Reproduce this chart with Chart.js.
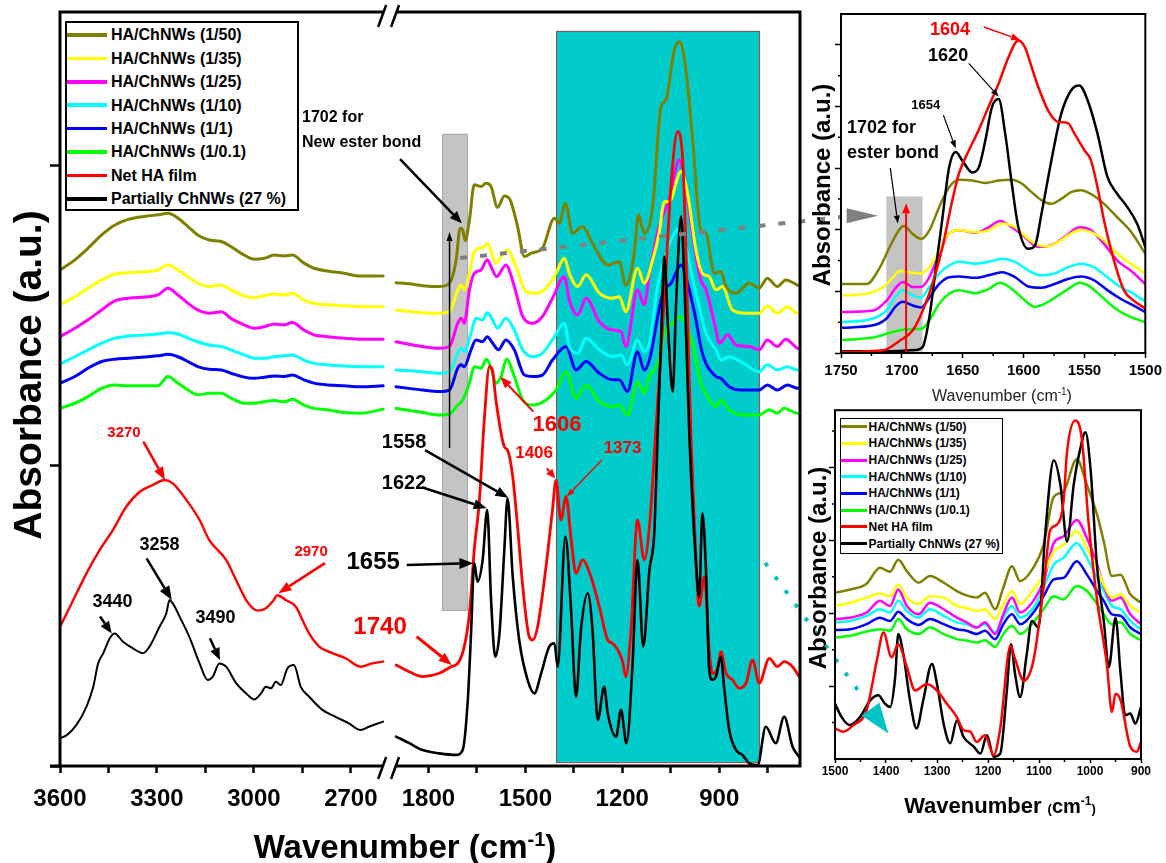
<!DOCTYPE html>
<html>
<head>
<meta charset="utf-8">
<title>FTIR HA/ChNWs</title>
<script src="https://cdn.jsdelivr.net/npm/chart.js@4.4.0/dist/chart.umd.min.js"></script>
<style>
  body { margin: 0; background: #fff; }
  #wrap { position: relative; width: 1166px; height: 863px; overflow: hidden; background: #fff;
          font-family: "Liberation Sans", Arial, Helvetica, sans-serif; color: #000; }
  canvas { position: absolute; }
  .t { position: absolute; white-space: nowrap; text-align: center; font-weight: bold; }
  .rot { transform: rotate(-90deg); }
  .leg { position: absolute; background: #fff; border: 2px solid #000; }
  .row { position: absolute; left: 0; white-space: nowrap; font-weight: bold; }
  .row i { position: absolute; left: 0; display: block; }
  .row span { position: absolute; }
</style>
</head>
<body>
<div id="wrap">
  <canvas id="main" width="1166" height="863" style="left:0;top:0"></canvas>
  <canvas id="insetTop" width="366" height="400" style="left:800px;top:0"></canvas>
  <canvas id="insetBot" width="366" height="463" style="left:800px;top:400px"></canvas>

  <div class="t rot" style="left:-222px;top:353px;width:500px;height:44px;line-height:44px;font-size:39px;">Absorbance (a.u.)</div>
  <div class="t" style="left:0;top:818px;width:810px;line-height:42px;font-size:33px;">Wavenumber (cm<sup style="font-size:20px">-1</sup>)</div>

  <div class="t rot" style="left:672px;top:171px;width:300px;height:28px;line-height:28px;font-size:24px;">Absorbance (a.u.)</div>
  <div class="t" style="left:902px;top:382px;width:200px;line-height:20px;font-size:16px;font-weight:normal;color:#222;">Wavenumber (cm<sup style="font-size:10px">-1</sup>)</div>

  <div class="t rot" style="left:668px;top:554px;width:300px;height:28px;line-height:28px;font-size:24px;">Absorbance (a.u.)</div>
  <div class="t" style="left:880px;top:786px;width:240px;line-height:30px;font-size:22px;">Wavenumber <span style="font-size:13px">(</span><span style="font-size:20px">cm</span><sup style="font-size:12px">-1</sup><span style="font-size:13px">)</span></div>

  <div id="legMain" class="leg" style="left:65px;top:21px;width:230px;height:186px;"></div>
  <div id="legBot" class="leg" style="left:840px;top:418px;width:161px;height:134px;border-width:1.5px;"></div>
</div>

<script>
const FONT = '"Liberation Sans", Arial, Helvetica, sans-serif';
Chart.defaults.font.family = FONT;
Chart.defaults.color = '#000';

const names = ['HA/ChNWs (1/50)', 'HA/ChNWs (1/35)', 'HA/ChNWs (1/25)', 'HA/ChNWs (1/10)',
               'HA/ChNWs (1/1)', 'HA/ChNWs (1/0.1)', 'Net HA film', 'Partially ChNWs (27 %)'];
const colors = ['#808000', '#FFFF00', '#FF00FF', '#00FFFF', '#0000FF', '#00FF00', '#FF0000', '#000000'];

// ---------- main plot, 3600-2600 segment ----------
const leftWn = [3600,3554,3513,3471,3430,3389,3328,3297,3266,3235,3204,3174,3138,3101,3071,3030,2999,2968,2937,2906,2881,2845,2814,2773,2721,2670,2600];
const oliveLeft = [1.653,1.687,1.726,1.77,1.803,1.822,1.833,1.837,1.842,1.826,1.798,1.77,1.753,1.748,1.731,1.703,1.689,1.692,1.703,1.7,1.703,1.676,1.659,1.65,1.642,1.633,1.633];
const yellowLeft = [1.537,1.564,1.592,1.62,1.64,1.644,1.648,1.653,1.67,1.653,1.631,1.609,1.598,1.603,1.587,1.567,1.561,1.567,1.573,1.57,1.576,1.553,1.542,1.537,1.534,1.531,1.531];
const magentaLeft = [1.431,1.459,1.487,1.52,1.55,1.559,1.564,1.57,1.592,1.57,1.542,1.52,1.509,1.514,1.492,1.47,1.459,1.464,1.473,1.47,1.478,1.453,1.437,1.431,1.426,1.422,1.422];
const cyanLeft = [1.34,1.364,1.387,1.409,1.426,1.433,1.437,1.44,1.444,1.44,1.426,1.414,1.403,1.398,1.387,1.37,1.359,1.359,1.364,1.367,1.37,1.353,1.342,1.337,1.333,1.331,1.331];
const blueLeft = [1.276,1.298,1.326,1.348,1.356,1.359,1.364,1.367,1.372,1.364,1.348,1.331,1.322,1.32,1.309,1.296,1.292,1.296,1.3,1.298,1.303,1.287,1.276,1.27,1.267,1.264,1.267];
const greenLeft = [1.192,1.209,1.231,1.259,1.27,1.267,1.267,1.267,1.298,1.276,1.253,1.237,1.242,1.242,1.226,1.209,1.209,1.214,1.218,1.214,1.222,1.203,1.192,1.187,1.178,1.176,1.189];
const redLeftWn = [3600,3559,3518,3477,3436,3395,3353,3312,3276,3251,3209,3168,3138,3086,3055,3024,2989,2963,2942,2927,2901,2870,2850,2829,2798,2757,2716,2670,2634,2600];
const redLeft = [0.464,0.553,0.642,0.72,0.787,0.864,0.914,0.937,0.953,0.942,0.887,0.82,0.753,0.687,0.62,0.553,0.518,0.526,0.548,0.569,0.553,0.531,0.487,0.442,0.398,0.376,0.359,0.331,0.342,0.348];
const blackLeftWn = [3600,3579,3549,3518,3497,3482,3466,3446,3431,3405,3374,3343,3323,3292,3271,3261,3251,3225,3200,3168,3143,3127,3107,3086,3055,3024,2999,2978,2963,2947,2932,2917,2896,2876,2855,2829,2788,2747,2706,2670,2644,2600];
const blackLeft = [0.092,0.103,0.137,0.198,0.264,0.342,0.376,0.426,0.442,0.414,0.392,0.376,0.398,0.464,0.509,0.553,0.542,0.487,0.431,0.342,0.287,0.298,0.342,0.331,0.276,0.242,0.222,0.242,0.264,0.259,0.281,0.27,0.326,0.337,0.264,0.231,0.187,0.164,0.142,0.12,0.131,0.148];

// ---------- main plot, 1900-650 segment ----------
const oliveRightWn = [1900,1859,1818,1766,1735,1714,1702,1694,1686,1673,1658,1637,1622,1606,1586,1565,1547,1524,1503,1482,1447,1410,1395,1376,1354,1323,1292,1245,1209,1189,1163,1150,1132,1106,1080,1065,1039,1022,1003,983,957,941,915,895,879,848,807,776,751,720,694,658,650];
const oliveRight = [1.611,1.607,1.601,1.598,1.609,1.687,1.792,1.787,1.751,1.82,1.937,1.931,1.942,1.931,1.862,1.9,1.887,1.798,1.698,1.709,1.726,1.826,1.809,1.876,1.776,1.798,1.742,1.67,1.681,1.603,1.709,1.837,1.776,1.864,2.198,2.22,2.387,2.414,2.32,2.098,1.787,1.776,1.642,1.648,1.598,1.576,1.609,1.593,1.626,1.598,1.62,1.603,1.6];
const yellowRightWn = [1900,1818,1766,1735,1709,1699,1689,1673,1658,1642,1627,1617,1591,1575,1555,1529,1498,1467,1436,1405,1379,1364,1338,1312,1271,1230,1209,1189,1153,1132,1106,1086,1070,1055,1018,998,972,952,931,910,890,859,817,776,751,720,689,658,650];
const yellowRight = [1.52,1.511,1.509,1.514,1.587,1.603,1.587,1.642,1.714,1.726,1.731,1.742,1.676,1.698,1.72,1.664,1.581,1.576,1.592,1.642,1.692,1.642,1.598,1.637,1.576,1.559,1.564,1.514,1.659,1.609,1.687,1.776,1.881,1.881,1.981,1.909,1.72,1.642,1.631,1.587,1.598,1.52,1.509,1.509,1.533,1.509,1.531,1.509,1.51];
const magentaRightWn = [1900,1818,1766,1735,1709,1699,1689,1673,1658,1637,1618,1606,1589,1560,1534,1508,1477,1447,1416,1379,1364,1338,1312,1271,1230,1204,1189,1153,1132,1116,1086,1055,1024,1003,983,957,941,910,900,874,848,807,776,751,720,694,658,650];
const magentaRight = [1.414,1.398,1.392,1.398,1.476,1.492,1.476,1.587,1.642,1.653,1.687,1.664,1.631,1.67,1.598,1.498,1.476,1.498,1.559,1.631,1.553,1.503,1.559,1.481,1.453,1.448,1.398,1.587,1.537,1.642,1.798,1.887,2.02,1.931,1.776,1.62,1.587,1.453,1.409,1.437,1.403,1.398,1.387,1.42,1.398,1.422,1.392,1.39];
const cyanRightWn = [1900,1818,1766,1735,1709,1699,1689,1668,1653,1632,1618,1601,1586,1560,1534,1508,1477,1447,1416,1379,1364,1338,1312,1271,1230,1204,1184,1153,1132,1116,1091,1070,1049,1024,1003,977,957,941,910,895,869,833,776,751,720,689,658,650];
const cyanRight = [1.32,1.314,1.309,1.314,1.376,1.392,1.381,1.442,1.492,1.487,1.511,1.487,1.459,1.492,1.453,1.387,1.364,1.376,1.42,1.476,1.398,1.376,1.426,1.387,1.364,1.37,1.337,1.42,1.381,1.409,1.598,1.687,1.753,1.792,1.731,1.598,1.509,1.442,1.387,1.353,1.364,1.348,1.314,1.337,1.32,1.331,1.32,1.32];
const blueRightWn = [1900,1818,1766,1735,1709,1699,1689,1668,1653,1632,1618,1601,1583,1560,1534,1503,1477,1447,1416,1374,1343,1312,1271,1230,1209,1184,1153,1132,1116,1075,1049,1018,998,972,957,941,910,895,869,833,776,751,720,689,658,650];
const blueRight = [1.264,1.253,1.248,1.253,1.326,1.337,1.331,1.387,1.42,1.414,1.431,1.409,1.387,1.42,1.387,1.303,1.298,1.303,1.353,1.398,1.32,1.348,1.309,1.287,1.287,1.248,1.381,1.32,1.353,1.576,1.609,1.67,1.609,1.487,1.398,1.342,1.298,1.292,1.264,1.253,1.253,1.27,1.253,1.27,1.259,1.26];
const greenRightWn = [1900,1818,1766,1735,1709,1694,1673,1658,1637,1620,1606,1591,1575,1558,1534,1508,1477,1436,1405,1374,1343,1312,1271,1230,1209,1184,1153,1132,1116,1086,1070,1044,1018,998,983,957,936,910,895,869,833,776,745,720,699,658,650];
const greenRight = [1.192,1.178,1.17,1.173,1.203,1.22,1.276,1.331,1.326,1.356,1.326,1.276,1.298,1.356,1.298,1.22,1.203,1.22,1.253,1.314,1.226,1.27,1.214,1.198,1.203,1.17,1.281,1.242,1.298,1.353,1.442,1.476,1.498,1.453,1.409,1.276,1.231,1.198,1.22,1.187,1.17,1.17,1.187,1.176,1.192,1.176,1.176];
const redRightWn = [1900,1859,1818,1766,1730,1709,1689,1673,1658,1642,1627,1611,1602,1591,1565,1555,1539,1524,1508,1488,1477,1462,1436,1416,1405,1390,1374,1359,1343,1323,1297,1271,1245,1230,1209,1199,1189,1173,1153,1132,1116,1096,1070,1048,1029,1013,1002,993,977,962,946,931,921,905,895,879,859,838,817,797,776,745,720,699,673,653];
const redRight = [0.337,0.314,0.298,0.309,0.331,0.342,0.398,0.509,0.72,0.887,1.153,1.331,1.32,1.22,1.064,1.053,0.964,0.798,0.598,0.431,0.42,0.464,0.664,0.853,0.953,0.82,0.898,0.764,0.642,0.687,0.631,0.531,0.42,0.409,0.376,0.348,0.298,0.453,0.82,0.687,0.798,1.12,1.553,1.953,2.114,2.02,1.687,1.287,0.82,0.533,0.631,0.387,0.309,0.326,0.381,0.309,0.287,0.259,0.276,0.353,0.276,0.359,0.331,0.348,0.331,0.298];
const blackRightWn = [1900,1859,1818,1766,1714,1694,1678,1668,1658,1648,1632,1618,1606,1593,1580,1565,1555,1539,1519,1493,1472,1451,1426,1410,1400,1376,1359,1343,1328,1307,1292,1276,1256,1245,1219,1204,1187,1168,1153,1135,1116,1101,1091,1079,1070,1058,1044,1033,1018,1008,993,972,962,952,941,931,921,910,895,884,869,848,828,807,781,756,725,699,673,653];
const blackRight = [0.098,0.076,0.053,0.042,0.037,0.053,0.22,0.442,0.676,0.614,0.687,0.853,0.553,0.364,0.442,0.72,0.892,0.631,0.42,0.287,0.242,0.309,0.398,0.409,0.331,0.764,0.531,0.231,0.453,0.576,0.453,0.153,0.264,0.176,0.098,0.187,0.076,0.342,0.687,0.398,0.653,0.776,1.087,1.453,1.698,1.453,1.248,1.553,1.831,1.62,1.12,0.676,0.564,0.842,0.653,0.32,0.287,0.298,0.364,0.253,0.12,0.053,0.037,0.009,0.003,0.131,0.076,0.164,0.064,0.031];

// ---------- top inset 1750-1500 ----------
const trOliveWn = [1749.2,1728.9,1718.0,1710.0,1701.8,1698.5,1691.0,1684.2,1677.4,1669.3,1661.2,1653.0,1642.2,1631.4,1620.5,1609.7,1601.6,1593.4,1585.3,1577.2,1569.1,1561.0,1552.8,1544.7,1533.9,1523.0,1512.2,1500];
const trOlive = [1.12,1.12,1.39,1.72,2.01,2.06,1.93,1.85,1.99,2.37,2.69,2.81,2.8,2.76,2.8,2.81,2.75,2.61,2.48,2.42,2.5,2.61,2.64,2.58,2.42,2.2,1.98,1.61];
const trYellowWn = [1749.2,1728.9,1715.3,1707.2,1701.8,1693.7,1685.5,1677.4,1669.3,1661.2,1653.0,1639.5,1628.7,1617.8,1607.0,1596.2,1588.0,1579.9,1571.8,1561.0,1552.8,1544.7,1533.9,1523.0,1512.2,1500];
const trYellow = [0.935,0.96,1.07,1.23,1.33,1.31,1.29,1.39,1.66,1.94,1.99,1.96,1.99,2.1,2.04,1.85,1.75,1.73,1.8,1.94,2.0,1.96,1.83,1.61,1.45,1.29];
const trMagentaWn = [1749.2,1723.5,1712.6,1704.5,1699.1,1691.0,1684.2,1677.4,1669.3,1661.2,1653.0,1639.5,1628.7,1619.2,1609.7,1598.9,1588.0,1577.2,1566.4,1554.2,1544.7,1533.9,1523.0,1512.2,1500];
const trMagenta = [0.665,0.69,0.85,1.07,1.15,1.07,1.07,1.23,1.61,1.94,1.99,1.95,2.04,2.14,2.04,1.88,1.72,1.75,1.88,2.04,1.99,1.77,1.5,1.34,1.12];
const trCyanWn = [1749.2,1723.5,1712.6,1704.5,1699.1,1691.0,1684.2,1677.4,1669.3,1661.2,1653.0,1639.5,1628.7,1617.8,1607.0,1596.2,1585.3,1574.5,1563.6,1552.8,1542.0,1531.2,1520.3,1509.5,1500];
const trCyan = [0.5,0.56,0.69,0.93,1.02,0.93,0.9,1.07,1.29,1.42,1.48,1.45,1.48,1.53,1.48,1.34,1.26,1.29,1.39,1.45,1.39,1.23,1.07,0.96,0.83];
const trBlue = [0.41,0.45,0.56,0.77,0.83,0.77,0.74,0.9,1.12,1.23,1.24,1.22,1.26,1.31,1.23,1.08,1.06,1.12,1.2,1.24,1.18,1.02,0.88,0.77,0.66];
const trGreenWn = [1749.2,1723.5,1712.6,1701.8,1691.0,1684.2,1677.4,1669.3,1661.2,1653.0,1639.5,1628.7,1619.2,1609.7,1598.9,1590.7,1582.6,1571.8,1561.0,1554.2,1547.4,1536.6,1525.7,1514.9,1500];
const trGreen = [0.21,0.25,0.31,0.37,0.39,0.39,0.53,0.8,0.96,1.02,0.97,1.04,1.14,1.04,0.85,0.75,0.8,0.93,1.07,1.14,1.1,0.93,0.74,0.61,0.5];
const trRedWn = [1749.2,1715.3,1701.8,1691,1682.8,1674.7,1666.6,1658.5,1653,1644.9,1636.8,1628.7,1620.5,1612.4,1604.3,1598.9,1593.4,1588,1580,1571.8,1563.6,1558.2,1550,1544.7,1539.3,1533.9,1525.7,1517.6,1509.5,1500];
const trRed = [0.016,0.043,0.2,0.37,0.69,1.13,1.72,2.48,2.92,3.29,3.62,4.0,4.37,4.8,5.07,4.96,4.64,4.32,3.94,3.75,3.73,3.56,3.29,3.13,2.69,2.15,1.5,1.02,0.85,0.72];
const trBlackWn = [1749.2,1715.3,1688.2,1682.8,1677.4,1672,1666.6,1661.2,1655.7,1650.3,1642.2,1636.8,1631.4,1626,1620.5,1615.1,1609.7,1604.3,1596.2,1590.7,1585.3,1577.2,1569.1,1561,1554.2,1547.4,1539.3,1531.2,1523,1514.9,1506.8,1500];
const trBlack = [0.03,0.03,0.05,0.1,0.58,1.39,2.2,3.01,3.26,3.12,2.93,3.01,3.45,3.99,4.12,3.56,2.75,2.04,1.69,1.74,2.26,3.12,3.88,4.26,4.34,4.1,3.56,2.86,2.58,2.37,2.1,1.72];

// ---------- bottom inset 1500-900 ----------
const brWn = [1500,1470,1438,1412,1392,1376,1359,1336,1314,1287,1261,1242,1222,1206,1186,1170,1153,1137,1111,1091,1071,1052,1026,1006,986,973,957,940,921,900];
const brOlive = [4.56,4.65,4.81,5.25,5.14,5.47,5.15,4.84,5.02,4.84,4.61,4.49,4.43,4.56,4.11,4.7,5.29,4.88,5.25,5.88,7.2,7.34,8.23,7.52,6.7,5.97,5.02,5.06,4.52,4.29];
const brYellow = [4.2,4.29,4.43,4.54,4.47,4.79,4.43,4.26,4.47,4.43,4.2,4.15,4.06,4.11,3.84,4.25,4.61,4.25,4.65,5.06,5.7,5.88,6.25,5.79,5.25,4.79,4.43,4.52,4.2,4.02];
const brMagenta = [3.84,3.88,4.02,4.34,4.2,4.65,4.2,3.97,4.29,4.11,3.88,3.75,3.61,3.75,3.43,3.97,4.43,4.02,4.34,4.88,5.93,6.11,6.56,6.06,5.34,4.75,4.34,4.43,3.97,3.7];
const brCyan = [3.75,3.79,3.93,4.11,4.02,4.34,4.06,3.88,4.11,3.93,3.75,3.7,3.61,3.7,3.48,3.88,4.2,3.88,4.15,4.7,5.34,5.52,5.93,5.52,4.97,4.61,4.2,4.11,3.79,3.56];
const brBlue = [3.54,3.56,3.7,3.88,3.79,4.04,3.84,3.68,3.84,3.7,3.56,3.52,3.43,3.52,3.29,3.7,3.97,3.7,4.02,4.47,4.93,4.97,5.43,5.06,4.61,4.34,3.97,3.93,3.61,3.43];
const brGreen = [3.34,3.38,3.5,3.56,3.52,3.84,3.56,3.43,3.61,3.43,3.29,3.25,3.2,3.26,3.08,3.43,3.66,3.43,3.75,4.11,4.47,4.38,4.75,4.61,4.25,3.97,3.7,3.75,3.43,3.26];
const brRedWn = [1500,1484,1464,1438,1418,1405,1389,1376,1359,1343,1320,1300,1281,1261,1248,1235,1222,1206,1189,1176,1156,1147,1130,1111,1091,1078,1065,1052,1045,1029,1016,1003,986,967,957,950,940,921,908,900];
const brRed = [0.84,0.75,0.93,1.34,2.7,3.47,2.79,3.15,2.52,1.88,2.06,1.88,1.52,1.15,0.79,0.75,0.47,0.65,0.11,0.84,3.11,2.75,2.15,2.7,4.7,6.29,6.43,7.06,8.43,9.29,8.79,6.52,4.34,2.61,1.29,1.79,1.61,0.34,0.2,0.47];
const brBlackWn = [1500,1487,1471,1451,1431,1415,1402,1392,1382,1376,1366,1353,1340,1327,1310,1300,1287,1274,1261,1248,1228,1215,1202,1189,1176,1163,1155,1147,1137,1124,1114,1101,1088,1071,1058,1045,1032,1019,1009,999,986,973,963,950,940,931,921,911,900];
const brBlack = [1.52,1.15,0.93,1.15,1.61,1.75,1.52,1.43,2.25,3.43,2.88,1.61,0.84,1.61,2.61,2.06,0.97,0.43,1.06,0.61,0.34,0.15,0.65,0.06,0.15,1.88,3.15,2.34,1.7,2.88,3.79,3.61,6.15,8.2,7.52,5.97,7.52,8.52,8.97,7.97,5.25,3.79,2.52,3.88,2.34,1.2,1.25,0.97,1.43];

// tick positions
const mainMajor = [3600, 3300, 3000, 2700, 1800, 1500, 1200, 900];
const mainMinor = [3450, 3150, 2850, 1650, 1350, 1050, 750];

// broken axis: 3600-2600 then 1900-650 on one linear position scale
function wnToPos(wn) { return wn >= 2600 ? 3600 - wn : 1040 + (1900 - wn); }
const posToLabel = {};
mainMajor.forEach(w => { posToLabel[wnToPos(w)] = String(w); });

function pts(wns, vals, map) { return wns.map((w, i) => ({ x: map(w), y: vals[i] })); }
function ds(data, color, width) {
  return { data, borderColor: color, borderWidth: width, pointRadius: 0, fill: false,
           cubicInterpolationMode: 'monotone', borderJoinStyle: 'round', borderCapStyle: 'round' };
}
const same = w => w;

// ---------- annotation helpers ----------
function arrow(ctx, a, b, color, lw, hl, hw) {
  const ang = Math.atan2(b[1] - a[1], b[0] - a[0]);
  const bx = b[0] - hl * Math.cos(ang), by = b[1] - hl * Math.sin(ang);
  ctx.strokeStyle = color; ctx.lineWidth = lw; ctx.setLineDash([]);
  ctx.beginPath(); ctx.moveTo(a[0], a[1]); ctx.lineTo(bx, by); ctx.stroke();
  ctx.fillStyle = color; ctx.beginPath(); ctx.moveTo(b[0], b[1]);
  ctx.lineTo(bx + hw / 2 * Math.sin(ang), by - hw / 2 * Math.cos(ang));
  ctx.lineTo(bx - hw / 2 * Math.sin(ang), by + hw / 2 * Math.cos(ang));
  ctx.closePath(); ctx.fill();
}

function paint(chart, items, xMap) {
  const ctx = chart.ctx, xs = chart.scales.x, ys = chart.scales.y;
  const P = p => [xs.getPixelForValue(xMap(p[0])), ys.getPixelForValue(p[1])];
  ctx.save();
  for (const n of items) {
    if (n.type === 'rect') {
      const a = P(n.from), b = P(n.to);
      const x = Math.min(a[0], b[0]), y = Math.min(a[1], b[1]);
      const w = Math.abs(b[0] - a[0]), h = Math.abs(b[1] - a[1]);
      ctx.fillStyle = n.fill; ctx.fillRect(x, y, w, h);
      if (n.stroke) { ctx.strokeStyle = n.stroke; ctx.lineWidth = 1; ctx.strokeRect(x + 0.5, y + 0.5, w, h); }
    } else if (n.type === 'text') {
      const a = P(n.at);
      ctx.font = 'bold ' + n.size + 'px ' + FONT; ctx.fillStyle = n.color;
      ctx.textAlign = n.align || 'center'; ctx.textBaseline = 'middle';
      ctx.fillText(n.text, a[0], a[1]);
    } else if (n.type === 'arrow') {
      arrow(ctx, P(n.from), P(n.to), n.color, n.lw, n.hl, n.hw);
    } else if (n.type === 'dash') {
      const a = P(n.from), b = P(n.to);
      ctx.strokeStyle = n.color; ctx.lineWidth = n.lw; ctx.setLineDash(n.dash); ctx.lineCap = 'butt';
      ctx.beginPath(); ctx.moveTo(a[0], a[1]); ctx.lineTo(b[0], b[1]); ctx.stroke(); ctx.setLineDash([]);
    } else if (n.type === 'poly') {
      ctx.fillStyle = n.fill; ctx.beginPath();
      n.pts.forEach((p, i) => { const q = P(p); i ? ctx.lineTo(q[0], q[1]) : ctx.moveTo(q[0], q[1]); });
      ctx.closePath(); ctx.fill();
    }
  }
  ctx.restore();
}

function notes(items, xMap, frame) {
  return {
    id: 'notes',
    beforeDatasetsDraw(chart) { paint(chart, items.filter(n => n.under), xMap); },
    afterDatasetsDraw(chart) { paint(chart, items.filter(n => !n.under), xMap); },
    afterDraw(chart) { frame(chart); }
  };
}

function mainFrame(chart) {
  const ctx = chart.ctx, a = chart.chartArea, xs = chart.scales.x;
  const gL = xs.getPixelForValue(1000), gR = xs.getPixelForValue(1040);
  ctx.save();
  ctx.strokeStyle = '#000'; ctx.lineWidth = 3; ctx.lineCap = 'butt';
  ctx.beginPath();
  ctx.moveTo(a.left, a.top - 1.5); ctx.lineTo(a.left, a.bottom);
  ctx.moveTo(a.right, a.top - 1.5); ctx.lineTo(a.right, a.bottom + 1.5);
  ctx.moveTo(a.left, a.top); ctx.lineTo(gL, a.top);
  ctx.moveTo(gR, a.top); ctx.lineTo(a.right, a.top);
  ctx.moveTo(a.left - 10, a.bottom); ctx.lineTo(gL, a.bottom);
  ctx.moveTo(gR, a.bottom); ctx.lineTo(a.right, a.bottom);
  ctx.stroke();
  ctx.lineWidth = 2.5; ctx.beginPath();
  for (const y of [a.top + 4, a.bottom + 2]) {
    for (const x of [gL - 1, gR - 1]) { ctx.moveTo(x - 4, y + 11); ctx.lineTo(x + 4, y - 11); }
  }
  ctx.stroke();
  ctx.restore();
}

function insetFrame(minorX, minorY) {
  return chart => {
    const ctx = chart.ctx, a = chart.chartArea, xs = chart.scales.x, ys = chart.scales.y;
    ctx.save();
    ctx.strokeStyle = '#000'; ctx.lineWidth = 2;
    ctx.strokeRect(a.left, a.top, a.right - a.left, a.bottom - a.top);
    ctx.lineWidth = 1.5; ctx.beginPath();
    minorX.forEach(v => { const x = xs.getPixelForValue(v); ctx.moveTo(x, a.bottom); ctx.lineTo(x, a.bottom + 3); });
    minorY.forEach(v => { const y = ys.getPixelForValue(v); ctx.moveTo(a.left, y); ctx.lineTo(a.left - 3, y); });
    ctx.stroke();
    ctx.restore();
  };
}

// ---------- annotations (wavenumber, absorbance) ----------
const mainNotes = [
  { type: 'rect', under: true, from: [1404.9, 0.013], to: [776.6, 2.45], fill: '#00CCCC', stroke: '#8a4a4a' },
  { type: 'rect', under: true, from: [1757.7, 0.52], to: [1680.3, 2.107], fill: '#C4C4C4', stroke: '#a8a8a8' },
  { type: 'dash', from: [1701.6, 1.693], to: [520, 1.83], color: '#808080', lw: 4, dash: [7, 13] },
  { type: 'dash', from: [757.9, 0.677], to: [463.9, 0.243], color: '#00C4C4', lw: 4, dash: [4, 13] },
  { type: 'text', at: [2851, 2.16], text: '1702 for', color: '#000', size: 16, align: 'left' },
  { type: 'text', at: [2851, 2.077], text: 'New ester bond', color: '#000', size: 16, align: 'left' },
  { type: 'arrow', from: [1887.7, 2.023], to: [1696.8, 1.809], color: '#000', lw: 2.5, hl: 12, hw: 10 },
  { type: 'arrow', from: [1734.5, 1.06], to: [1734.5, 1.78], color: '#000', lw: 1.5, hl: 9, hw: 6 },
  { type: 'text', at: [1401.8, 1.137], text: '1606', color: '#FF0000', size: 22 },
  { type: 'arrow', from: [1475.1, 1.181], to: [1578.1, 1.298], color: '#FF0000', lw: 2, hl: 12, hw: 9 },
  { type: 'text', at: [1875.3, 1.077], text: '1558', color: '#000', size: 20 },
  { type: 'arrow', from: [1810.4, 1.053], to: [1552.6, 0.894], color: '#000', lw: 2.5, hl: 13, hw: 10 },
  { type: 'text', at: [1875.3, 0.94], text: '1622', color: '#000', size: 20 },
  { type: 'arrow', from: [1820.6, 0.929], to: [1619.4, 0.859], color: '#000', lw: 2.5, hl: 13, hw: 10 },
  { type: 'text', at: [2631, 0.677], text: '1655', color: '#000', size: 24 },
  { type: 'arrow', from: [1866.9, 0.67], to: [1660.8, 0.676], color: '#000', lw: 2.5, hl: 14, hw: 11 },
  { type: 'text', at: [2609.6, 0.463], text: '1740', color: '#FF0000', size: 24 },
  { type: 'arrow', from: [1836.1, 0.431], to: [1727.7, 0.337], color: '#FF0000', lw: 3, hl: 13, hw: 10 },
  { type: 'text', at: [1472.9, 1.043], text: '1406', color: '#FF0000', size: 17 },
  { type: 'arrow', from: [1433.6, 0.992], to: [1407.8, 0.959], color: '#FF0000', lw: 2, hl: 9, hw: 8 },
  { type: 'text', at: [1199.1, 1.06], text: '1373', color: '#FF0000', size: 17 },
  { type: 'arrow', from: [1263.4, 1.02], to: [1371.7, 0.898], color: '#FF0000', lw: 1.3, hl: 8, hw: 6 },
  { type: 'text', at: [3402, 1.11], text: '3270', color: '#FF0000', size: 15 },
  { type: 'arrow', from: [3342, 1.081], to: [3275, 0.953], color: '#FF0000', lw: 2.5, hl: 13, hw: 10 },
  { type: 'text', at: [3292, 0.737], text: '3258', color: '#000', size: 18 },
  { type: 'arrow', from: [3332, 0.692], to: [3254, 0.553], color: '#000', lw: 2.5, hl: 14, hw: 11 },
  { type: 'text', at: [3437.5, 0.547], text: '3440', color: '#000', size: 18 },
  { type: 'arrow', from: [3476, 0.498], to: [3440, 0.442], color: '#000', lw: 2.5, hl: 12, hw: 10 },
  { type: 'text', at: [3119, 0.493], text: '3490', color: '#000', size: 18 },
  { type: 'arrow', from: [3136, 0.426], to: [3105, 0.353], color: '#000', lw: 2.5, hl: 12, hw: 10 },
  { type: 'text', at: [2823, 0.713], text: '2970', color: '#FF0000', size: 15 },
  { type: 'arrow', from: [2780, 0.676], to: [2924, 0.576], color: '#FF0000', lw: 2.5, hl: 13, hw: 10 }
];

const topNotes = [
  { type: 'rect', under: true, from: [1712.8, 0.02], to: [1683, 2.54], fill: '#C4C4C4' },
  { type: 'arrow', from: [1696.5, 0.02], to: [1696.5, 2.43], color: '#FF0000', lw: 2, hl: 10, hw: 8 },
  { type: 'poly', pts: [[1745.4, 2.349], [1745.4, 2.106], [1719.6, 2.227]], fill: '#808080' },
  { type: 'text', at: [1745.1, 3.65], text: '1702 for', color: '#000', size: 18, align: 'left' },
  { type: 'text', at: [1745.1, 3.25], text: 'ester bond', color: '#000', size: 18, align: 'left' },
  { type: 'arrow', from: [1709.5, 3.0], to: [1703.3, 2.1], color: '#000', lw: 1.2, hl: 8, hw: 6 },
  { type: 'text', at: [1680.4, 4.01], text: '1654', color: '#000', size: 13 },
  { type: 'arrow', from: [1665.9, 3.86], to: [1655.8, 3.32], color: '#000', lw: 1.2, hl: 8, hw: 6 },
  { type: 'text', at: [1662, 4.81], text: '1620', color: '#000', size: 18 },
  { type: 'arrow', from: [1645, 4.70], to: [1620.5, 4.16], color: '#000', lw: 1.2, hl: 8, hw: 6 },
  { type: 'text', at: [1660.4, 5.24], text: '1604', color: '#FF0000', size: 18 },
  { type: 'arrow', from: [1632.7, 5.29], to: [1602.8, 5.08], color: '#FF0000', lw: 1.5, hl: 9, hw: 7 }
];

const botNotes = [
  { type: 'poly', pts: [[1448, 1.197], [1413, 1.546], [1395.3, 0.7]], fill: '#00C4C4' }
];

// ---------- charts ----------
const tickFont = size => ({ family: FONT, size, weight: 'bold' });
const plain = v => String(v);
const base = {
  responsive: false, animation: false, devicePixelRatio: 1,
  events: [],
  plugins: { legend: { display: false }, tooltip: { enabled: false } }
};

const mainSets = [
  ds(pts(blackRightWn, blackRight, wnToPos), colors[7], 2.6),
  ds(pts(blackLeftWn, blackLeft, wnToPos), colors[7], 2),
  ds(pts(redRightWn, redRight, wnToPos), colors[6], 2.8),
  ds(pts(redLeftWn, redLeft, wnToPos), colors[6], 2.4),
  ds(pts(oliveRightWn, oliveRight, wnToPos), colors[0], 3),
  ds(pts(leftWn, oliveLeft, wnToPos), colors[0], 3),
  ds(pts(yellowRightWn, yellowRight, wnToPos), colors[1], 3),
  ds(pts(leftWn, yellowLeft, wnToPos), colors[1], 3),
  ds(pts(magentaRightWn, magentaRight, wnToPos), colors[2], 3),
  ds(pts(leftWn, magentaLeft, wnToPos), colors[2], 3),
  ds(pts(cyanRightWn, cyanRight, wnToPos), colors[3], 3),
  ds(pts(leftWn, cyanLeft, wnToPos), colors[3], 3),
  ds(pts(blueRightWn, blueRight, wnToPos), colors[4], 3),
  ds(pts(leftWn, blueLeft, wnToPos), colors[4], 3),
  ds(pts(greenRightWn, greenRight, wnToPos), colors[5], 3),
  ds(pts(leftWn, greenLeft, wnToPos), colors[5], 3)
];

new Chart(document.getElementById('main'), {
  type: 'line',
  data: { datasets: mainSets },
  options: {
    ...base,
    layout: { padding: { left: 0, top: 12, right: 366, bottom: 0 } },
    scales: {
      x: {
        type: 'linear', min: 0, max: 2290,
        afterFit: s => { s.height = 97; },
        afterBuildTicks: s => { s.ticks = mainMajor.concat(mainMinor).map(wnToPos).sort((p, q) => p - q).map(v => ({ value: v })); },
        border: { display: false },
        grid: { drawOnChartArea: false, drawTicks: true, tickLength: 7, tickWidth: 2.5, tickColor: '#000' },
        ticks: { autoSkip: false, maxRotation: 0, padding: 12, color: '#000', font: tickFont(24),
                 callback: v => posToLabel[v] || '' }
      },
      y: {
        min: 0, max: 2.513,
        afterFit: s => { s.width = 60; },
        afterBuildTicks: s => { s.ticks = [0, 1, 2].map(v => ({ value: v })); },
        border: { display: false },
        grid: { drawOnChartArea: false, tickLength: 10, tickWidth: 2.5, tickColor: '#000' },
        ticks: { callback: () => '' }
      }
    }
  },
  plugins: [notes(mainNotes, wnToPos, mainFrame)]
});

new Chart(document.getElementById('insetTop'), {
  type: 'line',
  data: { datasets: [
    ds(pts(trRedWn, trRed, same), colors[6], 2.5),
    ds(pts(trBlackWn, trBlack, same), colors[7], 2.5),
    ds(pts(trOliveWn, trOlive, same), colors[0], 2.5),
    ds(pts(trYellowWn, trYellow, same), colors[1], 2.5),
    ds(pts(trMagentaWn, trMagenta, same), colors[2], 2.5),
    ds(pts(trCyanWn, trCyan, same), colors[3], 2.5),
    ds(pts(trCyanWn, trBlue, same), colors[4], 2.5),
    ds(pts(trGreenWn, trGreen, same), colors[5], 2.5)
  ] },
  options: {
    ...base,
    layout: { padding: { left: 0, top: 14, right: 18, bottom: 0 } },
    scales: {
      x: {
        type: 'linear', min: 1500, max: 1750, reverse: true,
        afterFit: s => { s.height = 47; },
        afterBuildTicks: s => { s.ticks = [1750, 1700, 1650, 1600, 1550, 1500].map(v => ({ value: v })); },
        border: { display: false },
        grid: { drawOnChartArea: false, tickLength: 5, tickWidth: 1.5, tickColor: '#000' },
        ticks: { autoSkip: false, maxRotation: 0, padding: 4, color: '#000', font: tickFont(15), callback: plain }
      },
      y: {
        min: 0, max: 5.5,
        afterFit: s => { s.width = 41; },
        afterBuildTicks: s => { s.ticks = [0, 1, 2, 3, 4, 5].map(v => ({ value: v })); },
        border: { display: false },
        grid: { drawOnChartArea: false, tickLength: 6, tickWidth: 1.5, tickColor: '#000' },
        ticks: { callback: () => '' }
      }
    }
  },
  plugins: [notes(topNotes, same, insetFrame([1725, 1675, 1625, 1575, 1525], [0.5, 1.5, 2.5, 3.5, 4.5]))]
});

new Chart(document.getElementById('insetBot'), {
  type: 'line',
  data: { datasets: [
    ds(pts(brRedWn, brRed, same), colors[6], 2.5),
    ds(pts(brBlackWn, brBlack, same), colors[7], 2.5),
    ds(pts(brWn, brOlive, same), colors[0], 2.5),
    ds(pts(brWn, brYellow, same), colors[1], 2.5),
    ds(pts(brWn, brMagenta, same), colors[2], 2.5),
    ds(pts(brWn, brCyan, same), colors[3], 2.5),
    ds(pts(brWn, brBlue, same), colors[4], 2.5),
    ds(pts(brWn, brGreen, same), colors[5], 2.5)
  ] },
  options: {
    ...base,
    layout: { padding: { left: 0, top: 8, right: 25, bottom: 0 } },
    scales: {
      x: {
        type: 'linear', min: 900, max: 1500, reverse: true,
        afterFit: s => { s.height = 104; },
        afterBuildTicks: s => { s.ticks = [1500, 1400, 1300, 1200, 1100, 1000, 900].map(v => ({ value: v })); },
        border: { display: false },
        grid: { drawOnChartArea: false, tickLength: 4, tickWidth: 1.5, tickColor: '#000' },
        ticks: { autoSkip: false, maxRotation: 0, padding: 1, color: '#000', font: tickFont(12), callback: plain }
      },
      y: {
        min: 0, max: 9.573,
        afterFit: s => { s.width = 35; },
        afterBuildTicks: s => { s.ticks = [2, 4, 6, 8].map(v => ({ value: v })); },
        border: { display: false },
        grid: { drawOnChartArea: false, tickLength: 6, tickWidth: 1.5, tickColor: '#000' },
        ticks: { callback: () => '' }
      }
    }
  },
  plugins: [notes(botNotes, same, insetFrame([1450, 1350, 1250, 1150, 1050, 950], [1, 3, 5, 7, 9]))]
});

// ---------- legends ----------
function legend(id, rowTop, rowStep, lineW, lineH, textLeft, size) {
  const box = document.getElementById(id);
  names.forEach((n, i) => {
    const r = document.createElement('div');
    r.className = 'row';
    const cy = rowTop + i * rowStep;
    r.style.top = (cy - size * 0.6) + 'px';
    r.style.height = (size * 1.2) + 'px';
    r.style.lineHeight = (size * 1.2) + 'px';
    r.style.fontSize = size + 'px';
    const ln = document.createElement('i');
    ln.style.width = lineW + 'px'; ln.style.height = lineH + 'px';
    ln.style.top = (size * 0.6 - lineH / 2) + 'px';
    ln.style.background = colors[i];
    const tx = document.createElement('span');
    tx.style.left = textLeft + 'px';
    tx.textContent = n;
    r.appendChild(ln); r.appendChild(tx);
    box.appendChild(r);
  });
}
legend('legMain', 12, 23.4, 40, 3.5, 44, 16);
legend('legBot', 7.8, 16.7, 26, 3, 27.5, 12);
</script>
</body>
</html>
